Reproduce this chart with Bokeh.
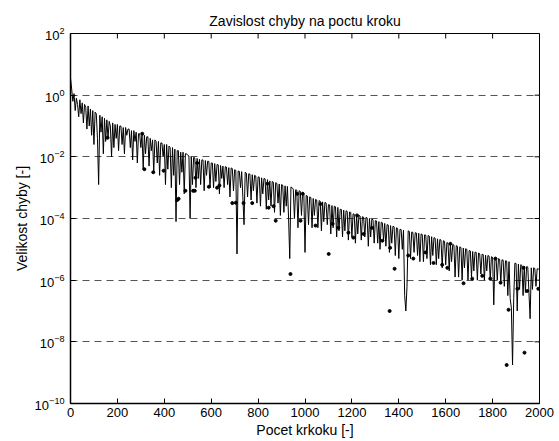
import math
from bokeh.plotting import figure
from bokeh.models import FixedTicker
from bokeh.embed import file_html
from bokeh.resources import INLINE

# step numbers (every 5th step)
steps = list(range(0, 2001, 5))
# log10 of the error
err_exp = [
    # 0 - 495
    0.55, 0.2, -0.2, 0.05, -0.5, -0.1, -0.3, -0.7, -0.15, -0.6,
    -0.25, -0.9, -0.3, -0.4, -1.1, -0.35, -1.0, -0.45, -1.3, -0.5,
    -1.6, -0.55, -0.6, -1.4, -2.9, -0.65, -1.2, -0.7, -1.9, -0.75,
    -1.5, -0.8, -1.4, -0.85, -1.0, -2.0, -0.9, -1.7, -0.95, -1.4,
    -0.95, -1.8, -1.0, -1.0, -1.6, -1.05, -1.9, -1.05, -1.3, -1.1,
    -1.1, -1.7, -1.15, -2.1, -1.15, -1.5, -1.2, -2.2, -1.25, -1.25,
    -1.7, -1.25, -2.4, -1.3, -1.9, -1.35, -1.35, -2.3, -1.4, -1.8,
    -1.45, -2.5, -1.45, -1.5, -2.2, -1.5, -2.6, -1.55, -1.55, -2.0,
    -1.6, -2.9, -1.6, -2.4, -1.65, -1.7, -3.0, -1.7, -2.6, -1.75,
    -4.1, -1.8, -1.8, -2.9, -1.85, -2.5, -1.85, -3.2, -1.9, -1.9,
    # 500 - 995
    -1.95, -1.97, -4.0, -2.0, -2.9, -2.02, -2.03, -3.0, -2.05, -2.7,
    -2.08, -2.9, -2.1, -2.1, -3.1, -2.12, -2.6, -2.14, -2.15, -3.0,
    -2.2, -2.2, -3.0, -2.22, -2.8, -2.25, -2.26, -3.2, -2.28, -2.7,
    -2.3, -3.0, -2.32, -2.33, -2.9, -2.35, -3.3, -2.36, -2.38, -3.1,
    -2.42, -2.44, -5.15, -2.46, -2.47, -3.0, -2.48, -3.3, -4.2, -2.5,
    -2.53, -3.3, -2.55, -2.56, -3.4, -2.58, -3.1, -2.6, -2.62, -3.5,
    -2.65, -2.66, -3.6, -2.68, -3.2, -2.7, -2.72, -3.7, -2.74, -3.4,
    -2.78, -3.6, -2.8, -2.82, -3.8, -2.84, -2.86, -3.5, -2.88, -3.9,
    -2.9, -2.92, -3.8, -2.94, -3.6, -2.96, -4.0, -5.3, -2.98, -3.0,
    -3.05, -4.0, -3.07, -3.08, -4.3, -3.1, -3.12, -3.9, -3.15, -3.18,
    # 1000 - 1495
    -5.1, -3.25, -3.27, -4.2, -3.3, -3.32, -4.3, -3.35, -3.9, -3.38,
    -3.4, -4.3, -3.42, -3.44, -4.4, -3.46, -4.1, -3.48, -3.5, -4.2,
    -3.55, -3.56, -4.5, -3.58, -4.3, -3.6, -3.62, -4.6, -3.64, -4.4,
    -3.7, -3.71, -4.6, -3.73, -4.4, -3.75, -3.77, -4.7, -3.79, -3.8,
    -4.6, -3.85, -3.86, -4.8, -3.88, -4.5, -3.9, -3.92, -4.7, -3.94,
    -3.96, -4.6, -3.97, -3.98, -4.9, -4.0, -4.6, -4.02, -4.04, -4.8,
    -4.07, -4.08, -4.8, -4.1, -5.0, -4.12, -4.14, -4.7, -4.16, -4.9,
    -4.2, -4.21, -5.1, -4.23, -4.8, -4.25, -4.27, -5.2, -4.3, -4.32,
    -5.3, -4.35, -4.36, -5.0, -4.38, -6.5, -7.0, -6.2, -4.4, -4.42,
    -5.3, -4.44, -4.45, -5.1, -4.46, -4.47, -5.2, -4.48, -5.4, -4.5,
    # 1500 - 1995
    -4.52, -5.4, -4.53, -4.54, -5.3, -4.55, -4.57, -5.5, -4.59, -5.2,
    -4.62, -4.64, -5.5, -4.66, -5.3, -4.68, -4.7, -5.6, -4.72, -4.74,
    -5.5, -4.78, -4.8, -5.7, -4.82, -5.4, -4.84, -4.86, -5.9, -4.88,
    -4.9, -5.9, -4.92, -4.94, -6.0, -4.96, -5.6, -4.98, -5.0, -6.0,
    -5.04, -5.05, -5.9, -5.07, -5.7, -5.09, -5.1, -6.0, -5.12, -5.14,
    -5.8, -5.16, -5.17, -6.0, -5.19, -5.7, -5.2, -5.22, -6.0, -5.24,
    -5.26, -6.8, -5.28, -5.29, -6.0, -5.3, -5.32, -6.1, -5.34, -5.35,
    -6.2, -5.37, -5.38, -6.5, -5.4, -6.6, -6.9, -8.75, -6.6, -5.45,
    -5.46, -7.0, -5.48, -6.3, -5.5, -5.52, -6.5, -5.54, -6.4, -5.56,
    -5.57, -6.4, -7.25, -5.6, -6.3, -5.6, -5.62, -6.2, -5.63, -5.64,
    # 2000
    -5.65,
]

# marked points
dot_steps = [158, 306, 315, 353, 397, 455, 461, 490, 523, 530, 533, 540, 590,
             625, 635, 690, 705, 738, 775, 840, 845, 866, 875, 938, 967, 981,
             990, 1045, 1066, 1101, 1118, 1142, 1185, 1206, 1222, 1250, 1286,
             1330, 1361, 1363, 1382, 1440, 1462, 1514, 1548, 1585, 1607, 1620,
             1676, 1713, 1756, 1790, 1812, 1834, 1860, 1868, 1906, 1932, 1936,
             1948, 1995]
dot_exp = [-1.38, -1.25, -2.4, -2.5, -2.45, -3.4, -3.36, -3.1, -3.1, -3.1, -2.68, -2.2, -2.97,
           -3.0, -2.93, -3.5, -3.49, -3.5, -3.5, -2.87, -3.65, -3.6, -4.07, -5.8, -3.2, -4.07,
           -3.2, -4.23, -3.53, -5.15, -4.17, -4.3, -4.46, -4.62, -3.9, -4.5, -4.3,
           -4.72, -7.0, -4.95, -5.63, -5.2, -5.3, -5.1, -5.44, -5.5, -5.6, -4.82,
           -6.1, -5.95, -5.86, -5.95, -5.3, -6.08, -8.75, -6.96, -6.28, -5.6, -8.35,
           -6.35, -6.28]

x_ticks = [0, 200, 400, 600, 800, 1000, 1200, 1400, 1600, 1800, 2000]
y_ticks = [1e-10, 1e-8, 1e-6, 1e-4, 1e-2, 1e0, 1e2]
x_min, x_max = 0, 2000
y_min, y_max = 1e-10, 1e2

err = [10.0 ** e for e in err_exp]
dots = [10.0 ** e for e in dot_exp]

FONT = "Liberation Sans"

p = figure(width=559, height=441, y_axis_type="log",
           x_range=(x_min, x_max), y_range=(y_min, y_max),
           output_backend="svg", toolbar_location=None,
           title="Zavislost chyby na poctu kroku",
           min_border_left=70, min_border_right=20,
           min_border_top=33, min_border_bottom=38)

p.title.align = "center"
p.title.text_font = FONT
p.title.text_font_size = "14px"
p.title.text_font_style = "normal"
p.title.text_color = "black"
p.title.standoff = 10

p.background_fill_color = "white"
p.border_fill_color = "white"
p.outline_line_color = "black"
p.outline_line_width = 1

p.line(steps, err, line_color="black", line_width=1)
p.scatter(dot_steps, dots, size=3, color="black")

# inward ticks on top and right edges
p.ray(x=x_ticks, y=[y_max] * len(x_ticks), length=5, angle=-math.pi / 2,
      length_units="screen", line_color="black", line_width=1)
p.ray(x=[x_max] * len(y_ticks), y=y_ticks, length=5, angle=math.pi,
      length_units="screen", line_color="black", line_width=1)

p.xgrid.grid_line_color = None
p.ygrid.grid_line_color = "#555555"
p.ygrid.grid_line_dash = "7 5"
p.ygrid.grid_line_width = 1

for ax in p.xaxis:
    ax.ticker = FixedTicker(ticks=x_ticks)
    ax.axis_label = "Pocet krkoku [-]"
    ax.axis_label_standoff = 2
    ax.major_label_standoff = 4
for ax in p.yaxis:
    ax.ticker = FixedTicker(ticks=y_ticks)
    ax.axis_label = "Velikost chyby [-]"
    ax.axis_label_standoff = 2
    ax.major_label_standoff = 6

for ax in list(p.xaxis) + list(p.yaxis):
    ax.major_tick_in = 5
    ax.major_tick_out = 0
    ax.minor_tick_in = 0
    ax.minor_tick_out = 0
    ax.axis_line_width = 1.5
    ax.axis_line_color = "black"
    ax.major_tick_line_color = "black"
    ax.major_label_text_font = FONT
    ax.major_label_text_font_size = "13px"
    ax.major_label_text_color = "black"
    ax.axis_label_text_font = FONT
    ax.axis_label_text_font_size = "14px"
    ax.axis_label_text_font_style = "normal"
    ax.axis_label_text_color = "black"

open("out.html", "w").write(file_html(p, INLINE))
